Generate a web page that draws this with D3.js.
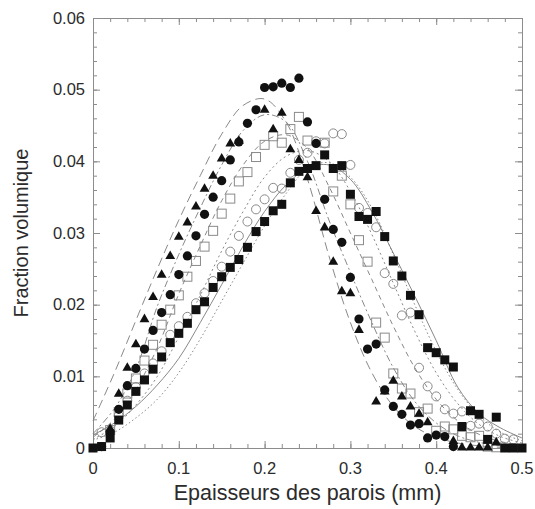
<!DOCTYPE html>
<html>
<head>
<meta charset="utf-8">
<script src="https://cdn.jsdelivr.net/npm/d3@7/dist/d3.min.js"></script>
<style>
  body { margin: 0; background: #fff; }
  text { font-family: "Liberation Sans", Arial, Helvetica, sans-serif; fill: #2b2b2b; }
</style>
</head>
<body>
<div id="chart"></div>
<script>
// thickness index k -> x = k * 0.01 mm ; y = volume fraction
const triangles = [
  [2,0.0028],[3,0.0077],[4,0.0113],[5,0.0146],[6,0.0181],[7,0.0212],[8,0.0243],[9,0.0269],
  [10,0.0296],[11,0.0316],[12,0.0338],[13,0.0363],[14,0.0381],[15,0.0405],[16,0.0426],[17,0.0430],
  [20,0.0473],[21,0.0446],[22,0.0469],[23,0.0418],[24,0.0403],[25,0.0379],[26,0.0332],[27,0.0309],
  [28,0.0261],[29,0.0220],[30,0.0217],[31,0.0166],[33,0.0066],[34,0.0080],[35,0.0095],[36,0.0073],
  [37,0.0059],[38,0.0049],[39,0.0037],[42,0.0011],[43,0.0002],[44,0.0002],[45,0.0002],[46,0.0002],[47,0.0009]
];
const circles = [
  [1,0.0002],[2,0.0022],[3,0.0054],[4,0.0087],[5,0.0111],[6,0.0138],[7,0.0164],[8,0.0189],[9,0.0214],
  [10,0.0242],[11,0.0268],[12,0.0296],[13,0.0326],[14,0.0350],[15,0.0373],[16,0.0402],[17,0.0427],
  [18,0.0453],[19,0.0472],[20,0.0503],[21,0.0504],[22,0.0509],[23,0.0503],[24,0.0516],[25,0.0455],
  [26,0.0425],[27,0.0347],[28,0.0305],[29,0.0287],[30,0.0238],[31,0.0180],[32,0.0138],[33,0.0145],
  [34,0.0081],[35,0.0058],[36,0.0047],[37,0.0032],[38,0.0034],[39,0.0014],[40,0.0018],[41,0.0016],[42,0.0002]
];
const openSquares = [
  [2,0.0025],[3,0.0050],[4,0.0076],[5,0.0097],[6,0.0122],[7,0.0144],[8,0.0172],[9,0.0193],[10,0.0213],
  [11,0.0239],[12,0.0261],[13,0.0281],[14,0.0303],[15,0.0327],[16,0.0348],[17,0.0372],[18,0.0385],
  [19,0.0406],[20,0.0423],[21,0.0435],[22,0.0426],[23,0.0445],[24,0.0462],[25,0.0429],[27,0.0426],
  [28,0.0358],[29,0.0380],[30,0.0340],[31,0.0290],[32,0.0260],[33,0.0175],[34,0.0154],[35,0.0104],
  [36,0.0083],[37,0.0076],[38,0.0050],[39,0.0055],[40,0.0024],[41,0.0030],[42,0.0026],[43,0.0017],
  [44,0.0015],[45,0.0017],[46,0.0002],[47,0.0001]
];
const openCircles = [
  [1,0.0022],[2,0.0025],[3,0.0045],[4,0.0066],[5,0.0085],[6,0.0104],[7,0.0118],[8,0.0135],[9,0.0158],
  [10,0.0170],[11,0.0183],[12,0.0202],[13,0.0216],[14,0.0233],[15,0.0253],[16,0.0274],[17,0.0296],
  [18,0.0316],[19,0.0333],[20,0.0347],[21,0.0363],[22,0.0362],[23,0.0384],[24,0.0402],[25,0.0412],
  [26,0.0428],[27,0.0425],[28,0.0439],[29,0.0438],[30,0.0395],[31,0.0335],[32,0.0328],[33,0.0308],
  [34,0.0244],[35,0.0229],[36,0.0185],[37,0.0189],[38,0.0112],[39,0.0086],[40,0.0072],[41,0.0054],
  [42,0.0048],[43,0.0051],[44,0.0031],[45,0.0034],[46,0.0030],[47,0.0020],[48,0.0013],[49,0.0012]
];
const filledSquares = [
  [0,0.0000],[1,0.0002],[2,0.0014],[3,0.0039],[4,0.0060],[5,0.0079],[6,0.0095],[7,0.0110],[8,0.0127],
  [9,0.0147],[10,0.0160],[11,0.0174],[12,0.0193],[13,0.0204],[14,0.0224],[15,0.0239],[16,0.0252],
  [17,0.0263],[18,0.0280],[19,0.0302],[20,0.0316],[21,0.0331],[22,0.0340],[23,0.0370],[24,0.0386],
  [25,0.0390],[26,0.0394],[27,0.0409],[28,0.0390],[29,0.0394],[30,0.0354],[31,0.0323],[32,0.0319],
  [33,0.0330],[34,0.0295],[35,0.0261],[36,0.0240],[37,0.0213],[38,0.0186],[39,0.0140],[40,0.0133],
  [41,0.0123],[42,0.0113],[43,0.0030],[44,0.0052],[45,0.0047],[46,0.0012],[47,0.0043],[48,0.0000],
  [49,0.0000],[50,0.0000]
];

// fitted curves, read at these thicknesses
const curveX = [0,0.025,0.05,0.075,0.1,0.125,0.15,0.175,0.2,0.225,0.25,0.275,0.3,0.325,0.35,0.375,0.4,0.425,0.45,0.475,0.5];
const fitLongDash = [0.0038,0.0105,0.0178,0.0250,0.0318,0.0380,0.0438,0.0478,0.0487,0.0455,0.0375,0.0268,0.0175,0.0105,0.0058,0.0030,0.0015,0.0007,0.0003,0.0001,0.0000];
const fitDashDot  = [0.0020,0.0055,0.0110,0.0198,0.0270,0.0335,0.0395,0.0443,0.0465,0.0455,0.0400,0.0318,0.0245,0.0175,0.0112,0.0065,0.0035,0.0017,0.0008,0.0003,0.0001];
const fitDash     = [0.0015,0.0040,0.0082,0.0140,0.0215,0.0282,0.0345,0.0395,0.0428,0.0437,0.0418,0.0365,0.0300,0.0235,0.0170,0.0112,0.0068,0.0038,0.0019,0.0009,0.0004];
const fitDot1     = [0.0012,0.0030,0.0060,0.0100,0.0155,0.0213,0.0275,0.0330,0.0378,0.0407,0.0415,0.0400,0.0358,0.0298,0.0230,0.0163,0.0105,0.0062,0.0033,0.0016,0.0007];
const fitDot2     = [0.0011,0.0022,0.0042,0.0068,0.0105,0.0152,0.0205,0.0258,0.0310,0.0355,0.0390,0.0398,0.0378,0.0335,0.0270,0.0200,0.0135,0.0082,0.0045,0.0022,0.0010];
const fitSolid    = [0.0018,0.0035,0.0058,0.0088,0.0125,0.0175,0.0228,0.0282,0.0330,0.0367,0.0390,0.0395,0.0375,0.0330,0.0272,0.0212,0.0150,0.0085,0.0048,0.0028,0.0014];

const xTicks = [0, 0.1, 0.2, 0.3, 0.4, 0.5];
const yTicks = [0, 0.01, 0.02, 0.03, 0.04, 0.05, 0.06];

const W = 535, H = 509;
const margin = { top: 18, right: 13, bottom: 61, left: 93 };
const innerW = W - margin.left - margin.right;
const innerH = H - margin.top - margin.bottom;
const axisColor = "#8c8c8c";
const curveColor = "#7a7a7a";

const svg = d3.select("#chart").append("svg").attr("width", W).attr("height", H);
const g = svg.append("g").attr("transform", `translate(${margin.left},${margin.top})`);

const x = d3.scaleLinear().domain([0, 0.5]).range([0, innerW]);
const y = d3.scaleLinear().domain([0, 0.06]).range([innerH, 0]);

// frame + ticks (inward, on all four sides)
const xMinor = d3.range(0, 0.5001, 0.02);
const yMinor = d3.range(0, 0.06001, 0.002);
function styleAxis(sel) {
  sel.select(".domain").attr("stroke", axisColor);
  sel.selectAll(".tick line").attr("stroke", axisColor);
  sel.selectAll(".tick text").remove();
}
const axes = [
  [d3.axisBottom(x), `translate(0,${innerH})`, xTicks, xMinor],
  [d3.axisTop(x), "translate(0,0)", xTicks, xMinor],
  [d3.axisLeft(y), "translate(0,0)", yTicks, yMinor],
  [d3.axisRight(y), `translate(${innerW},0)`, yTicks, yMinor]
];
axes.forEach(([ax, tr, major, minor]) => {
  g.append("g").attr("transform", tr)
    .call(ax.tickValues(minor).tickSizeInner(-4).tickSizeOuter(0).tickFormat(""))
    .call(styleAxis);
  g.append("g").attr("transform", tr)
    .call(ax.tickValues(major).tickSizeInner(-7).tickSizeOuter(0).tickFormat(""))
    .call(styleAxis);
});

// tick labels
g.selectAll(".xl").data(xTicks).enter().append("text")
  .attr("x", d => x(d)).attr("y", innerH + 26)
  .attr("text-anchor", "middle").style("font-size", "16.5px")
  .text(d => d3.format("~g")(d));
g.selectAll(".yl").data(yTicks).enter().append("text")
  .attr("x", -8).attr("y", d => y(d)).attr("dy", "0.35em")
  .attr("text-anchor", "end").style("font-size", "16.5px")
  .text(d => d3.format("~g")(d));

// axis titles
svg.append("text")
  .attr("x", margin.left + innerW / 2).attr("y", H - 9)
  .attr("text-anchor", "middle").style("font-size", "21.5px")
  .text("Epaisseurs des parois (mm)");
svg.append("text")
  .attr("transform", `translate(28,${margin.top + innerH / 2}) rotate(-90)`)
  .attr("text-anchor", "middle").style("font-size", "20px")
  .text("Fraction volumique");

// fitted curves
const line = d3.line()
  .x((d, i) => x(curveX[i]))
  .y(d => y(d))
  .curve(d3.curveCatmullRom);
const fits = [
  [fitLongDash, "9,5"],
  [fitDashDot, "7,3,2,3"],
  [fitDash, "5,4"],
  [fitDot1, "2,3"],
  [fitDot2, "1.5,2.5"],
  [fitSolid, null]
];
fits.forEach(([vals, dash]) => {
  g.append("path").datum(vals)
    .attr("d", line)
    .attr("fill", "none")
    .attr("stroke", curveColor)
    .attr("stroke-width", 0.9)
    .attr("stroke-dasharray", dash);
});

// markers
const px = d => x(d[0] / 100);
const py = d => y(d[1]);
const S = 9;

g.selectAll(".oc").data(openCircles).enter().append("circle")
  .attr("cx", px).attr("cy", py).attr("r", 4.5)
  .attr("fill", "none").attr("stroke", "#8a8a8a").attr("stroke-width", 1);

g.selectAll(".os").data(openSquares).enter().append("rect")
  .attr("x", d => px(d) - S / 2).attr("y", d => py(d) - S / 2)
  .attr("width", S).attr("height", S)
  .attr("fill", "none").attr("stroke", "#8a8a8a").attr("stroke-width", 1);

const tri = d3.symbol().type(d3.symbolTriangle).size(42);
g.selectAll(".tr").data(triangles).enter().append("path")
  .attr("d", tri)
  .attr("transform", d => `translate(${px(d)},${py(d) + 1})`)
  .attr("fill", "#111");

g.selectAll(".fc").data(circles).enter().append("circle")
  .attr("cx", px).attr("cy", py).attr("r", 4.6)
  .attr("fill", "#111");

g.selectAll(".fs").data(filledSquares).enter().append("rect")
  .attr("x", d => px(d) - S / 2).attr("y", d => py(d) - S / 2)
  .attr("width", S).attr("height", S)
  .attr("fill", "#111");
</script>
</body>
</html>
